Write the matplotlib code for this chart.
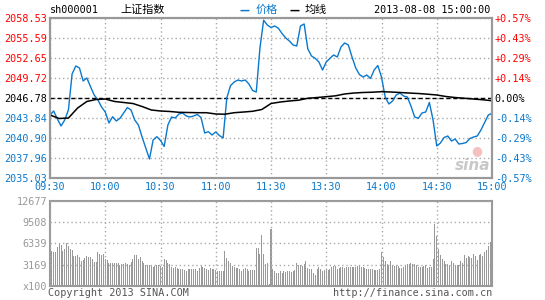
import numpy as np
import matplotlib.pyplot as plt

# minute index 0..240 (09:30-11:30, 13:01-15:00)
price = [2044.28, 2044.87, 2043.70, 2042.67, 2043.55, 2045.02, 2050.31, 2051.48, 2051.19, 2049.28,
         2049.72, 2048.44, 2047.22, 2046.49, 2045.46, 2044.72, 2043.11, 2044.03, 2043.40, 2043.80,
         2044.58, 2045.38, 2045.02, 2043.55, 2042.81, 2041.05, 2039.44, 2037.82, 2040.61, 2041.10,
         2040.54, 2039.66, 2042.81, 2043.99, 2043.84, 2044.43, 2044.58, 2044.14, 2043.99, 2044.14,
         2044.36, 2043.92, 2041.64, 2041.83, 2041.35, 2041.79, 2041.27, 2040.91, 2046.78, 2048.59,
         2049.13, 2049.42, 2049.28, 2049.42, 2048.84, 2047.88, 2047.66, 2054.12, 2058.20, 2057.50,
         2057.13, 2057.36, 2057.02, 2056.25, 2055.59, 2055.15, 2054.56, 2054.42, 2057.36, 2057.65,
         2053.98, 2052.95, 2052.61, 2052.07, 2050.89, 2052.07, 2052.61, 2053.10, 2052.80, 2054.27,
         2054.86, 2054.56, 2052.80, 2051.19, 2050.23, 2049.86, 2050.16, 2049.64, 2050.89, 2051.55,
         2049.86, 2046.93, 2045.90, 2046.34, 2047.22, 2047.51, 2047.07, 2046.93, 2045.61, 2043.99,
         2043.80, 2044.58, 2044.72, 2046.12, 2043.55, 2039.73, 2040.17, 2040.98, 2041.20, 2040.46,
         2040.76, 2040.02, 2040.10, 2040.24, 2040.83, 2041.05, 2041.20, 2042.08, 2043.18, 2044.28,
         2044.53]
price_min = np.arange(0, 241, 2)

avg = [2044.28, 2043.77, 2043.84, 2045.31, 2046.27, 2046.56, 2046.63, 2046.27, 2046.12, 2045.97,
       2045.53, 2045.02, 2044.87, 2044.80, 2044.68, 2044.65, 2044.62, 2044.62, 2044.43, 2044.40,
       2044.62, 2044.72, 2044.83, 2045.09, 2045.97, 2046.19, 2046.34, 2046.46, 2046.74, 2046.85,
       2046.97, 2047.10, 2047.37, 2047.51, 2047.59, 2047.63, 2047.71, 2047.66, 2047.59, 2047.51,
       2047.44, 2047.34, 2047.22, 2047.00, 2046.85, 2046.74, 2046.63, 2046.52, 2046.38]
avg_min = np.arange(0, 241, 5)

volume = [12677, 5260, 5110, 5110, 5860, 6410, 6110, 5160, 5510, 6400,
          5900, 5500, 5400, 4500, 4400, 4660, 4260, 3760, 3900, 4160,
          4400, 4260, 4260, 4010, 3610, 3610, 5100, 4760, 4610, 4760,
          4000, 3900, 3500, 3500, 3500, 3400, 3500, 3400, 3200, 3300,
          3300, 3400, 3300, 3200, 3600, 4100, 4600, 4600, 4000, 4300,
          3800, 3400, 3200, 3200, 3100, 3000, 2900, 3000, 3100, 3100,
          3000, 2900, 4100, 3900, 3400, 3300, 2800, 2700, 2800, 2700,
          2600, 2600, 2500, 2400, 2300, 2500, 2500, 2500, 2500, 2500,
          2300, 2700, 3000, 2900, 2700, 2600, 2400, 2700, 2600, 2500,
          2400, 2300, 2300, 2300, 2300, 5200, 4200, 3800, 3400, 3000,
          2800, 2700, 2700, 2600, 2200, 2500, 2700, 2500, 2300, 2400,
          2400, 2400, 5600, 5600, 4800, 7600, 4800, 3300, 3400, 300,
          8500,
          2600, 2200, 1900, 2000, 2300, 1900, 2200, 2100, 2300, 2200,
          2100, 2300, 2400, 3400, 3200, 3100, 3000, 3300, 3800, 2700,
          2600, 2500, 2000, 1700, 2600, 2900, 2600, 2200, 2400, 2500,
          2400, 2500, 2800, 3000, 3000, 2600, 2700, 2800, 2900, 2700,
          2800, 2900, 2800, 2800, 2800, 2900, 3000, 3100, 2900, 2900,
          2700, 2500, 2600, 2600, 2500, 2400, 2400, 2400, 2500, 5100,
          4300, 3700, 3300, 3200, 3800, 3100, 3000, 3100, 3000, 2700,
          2700, 2900, 3000, 3300, 3300, 3500, 3300, 3300, 3200, 2900,
          2800, 2900, 3000, 3100, 2700, 2800, 2800, 4000, 9200, 7500,
          5500, 4600, 4000, 3800, 3300, 3300, 3200, 3800, 3400, 3200,
          3200, 3100, 3700, 3400, 4600, 4200, 4400, 4300, 4200, 4700,
          4400, 3900, 4600, 4700, 4500, 5100, 5400, 6000, 6500, 7400]

prev_close = 2046.78
price_ticks = [2035.03, 2037.96, 2040.90, 2043.84, 2046.78, 2049.72, 2052.65, 2055.59, 2058.53]
pct_labels = ['-0.57%', '-0.43%', '-0.29%', '-0.14%', '0.00%', '+0.14%', '+0.29%', '+0.43%', '+0.57%']
time_pos = [0, 30, 60, 90, 120, 150, 180, 210, 240]
time_labels = ['09:30', '10:00', '10:30', '11:00', '11:30', '13:30', '14:00', '14:30', '15:00']
vol_ticks = [0, 3169, 6339, 9508, 12677]
vol_labels = ['x100', '3169', '6339', '9508', '12677']

BLUE = '#0a78cc'
RED = '#ff0000'
GRAY = '#999999'
mono = 'DejaVu Sans Mono'
cjk = ['Noto Sans CJK SC', 'DejaVu Sans']
fs = 7.3
grid_ls = (0, (1, 2))

fig = plt.figure(figsize=(5.45, 3.0), dpi=100)
ax = fig.add_axes([50 / 545, 122 / 300, 442 / 545, 160 / 300])
axv = fig.add_axes([50 / 545, 14 / 300, 442 / 545, 85 / 300])

# price panel
ax.plot(price_min, price, color=BLUE, lw=1.0, zorder=3)
ax.plot(avg_min, avg, color='black', lw=1.1, zorder=3)
ax.axhline(prev_close, color='black', lw=1, ls=(0, (3, 2)), zorder=2)
ax.set_xlim(0, 240)
ax.set_ylim(price_ticks[0], price_ticks[-1])
ax.set_yticks(price_ticks)
ax.set_yticklabels(['%.2f' % v for v in price_ticks], family=mono, fontsize=fs)
ax.set_xticks(time_pos)
ax.set_xticklabels(time_labels, family=mono, fontsize=fs, color=BLUE)
ax.grid(True, color='#aaaaaa', ls=grid_ls, lw=1)
ax.tick_params(length=0, pad=2)
ax.tick_params(axis='x', pad=3)
for lab, v in zip(ax.get_yticklabels(), price_ticks):
    lab.set_color(RED if v > prev_close else ('black' if v == prev_close else BLUE))

ax2 = ax.twinx()
ax2.set_ylim(price_ticks[0], price_ticks[-1])
ax2.set_yticks(price_ticks)
ax2.set_yticklabels(pct_labels, family=mono, fontsize=fs)
ax2.tick_params(length=0, pad=2)
for lab, v in zip(ax2.get_yticklabels(), price_ticks):
    lab.set_color(RED if v > prev_close else ('black' if v == prev_close else BLUE))

for a in (ax, ax2, axv):
    for s in a.spines.values():
        s.set_color(GRAY)
        s.set_linewidth(1.5)

# watermark
ax.text(0.955, 0.08, 'sina', transform=ax.transAxes, ha='center', va='center',
        fontsize=11, fontweight='bold', style='italic', color='#c8c8c8', zorder=1)
ax.text(0.965, 0.17, '\u25cf', transform=ax.transAxes, ha='center', va='center',
        fontsize=9, color='#f4c0c0', zorder=1)

# volume panel
axv.bar(np.arange(len(volume)), volume, width=0.55, color=GRAY, zorder=2)
axv.set_xlim(0, 240)
axv.set_ylim(0, 12677)
axv.set_yticks(vol_ticks)
axv.set_yticklabels(vol_labels, family=mono, fontsize=fs, color=GRAY)
axv.set_xticks(time_pos)
axv.set_xticklabels([])
axv.grid(True, color='#aaaaaa', ls=grid_ls, lw=1, zorder=3)
axv.set_axisbelow(False)
axv.tick_params(length=0, pad=2)

# header texts
fig.text(50 / 545, 1 - 10 / 300, 'sh000001', family=mono, fontsize=fs, va='center', ha='left')
fig.text(120 / 545, 1 - 10 / 300, '上证指数', family=cjk, fontsize=8, va='center', ha='left')
fig.text(239 / 545, 1 - 10 / 300, '\u2014', family=cjk, fontsize=8, color=BLUE,
         fontweight='bold', va='center', ha='left')
fig.text(256 / 545, 1 - 10 / 300, '价格', family=cjk, fontsize=8, color=BLUE, va='center', ha='left')
fig.text(289 / 545, 1 - 10 / 300, '\u2014', family=cjk, fontsize=8, color='black',
         fontweight='bold', va='center', ha='left')
fig.text(305 / 545, 1 - 10 / 300, '均线', family=cjk, fontsize=8, va='center', ha='left')
fig.text(490 / 545, 1 - 10 / 300, '2013-08-08 15:00:00', family=mono, fontsize=fs,
         va='center', ha='right')

# footer texts
fig.text(48 / 545, 1 - 293 / 300, 'Copyright 2013 SINA.COM', family=mono, fontsize=fs,
         color='#555555', va='center', ha='left')
fig.text(492 / 545, 1 - 293 / 300, 'http://finance.sina.com.cn', family=mono, fontsize=fs,
         color='#555555', va='center', ha='right')

fig.savefig('out.png', dpi=100)
